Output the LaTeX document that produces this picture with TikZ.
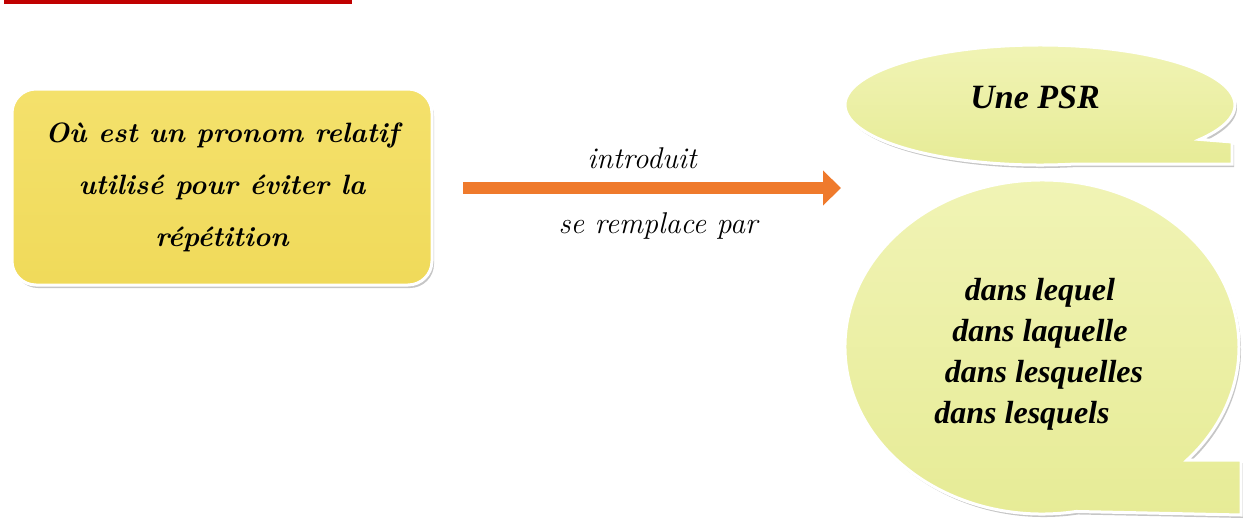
\documentclass[tikz,border=0pt]{standalone}
\usepackage{fontspec}
\newfontfamily\pubfont{Liberation Serif}
\usetikzlibrary{arrows.meta,shadows}
\definecolor{boxyellow}{HTML}{F0DA5A}
\definecolor{boxyellowtop}{HTML}{F4E16C}
\definecolor{bubtop}{HTML}{F1F4B6}
\definecolor{bubbot}{HTML}{E6EB95}
\definecolor{arroworange}{HTML}{EF7A2C}
\definecolor{barred}{HTML}{C00000}
\tikzset{
  boxstyle/.style={rectangle, rounded corners=12pt, minimum width=210pt, minimum height=98pt,
    top color=boxyellowtop, bottom color=boxyellow, draw=white, line width=1.5pt,
    drop shadow={shadow xshift=1pt, shadow yshift=-1.5pt, opacity=0.45},
    align=center, font=\fontsize{14}{26}\selectfont\bfseries\itshape},
  bubblestyle/.style={top color=bubtop, bottom color=bubbot, draw=white, line width=1.5pt,
    drop shadow={shadow xshift=1pt, shadow yshift=-1.5pt, opacity=0.45}},
  scripttext/.style={font=\fontsize{15}{18}\selectfont\itshape},
  bubbletext/.style={align=center, font=\pubfont\fontsize{16}{20.5}\selectfont\bfseries\itshape},
}
\begin{document}
\begin{tikzpicture}[x=0.5pt,y=-0.5pt]
\useasboundingbox (0,0) rectangle (1243,520);
% red bar
\fill[barred] (4,0) rectangle (352,3.5);
% left box
\node[boxstyle] (box) at (222,187) {Où est un pronom relatif\\utilisé pour éviter la\\répétition};
% arrow
\coordinate (astart) at (463,188);
\coordinate (aend) at (841,188);
\draw[arroworange, line width=6pt, -{Triangle[length=9pt,width=17pt]}] (astart) -- (aend);
\node[scripttext] (lab1) at (642,158) {introduit};
\node[scripttext] (lab2) at (658,226) {se remplace par};
% top bubble
\path[bubblestyle] (1040,105) ++(80:195 and 60) coordinate (t0)
  arc[start angle=80, end angle=395, x radius=195, y radius=60]
  -- (1232,142) -- (1232,164) -- (t0) -- cycle;
\node[font=\pubfont\fontsize{17}{20}\selectfont\bfseries\itshape] (psr) at (1035,97) {Une PSR};
% bottom bubble
\path[bubblestyle] (1042,347) ++(80:197 and 167) coordinate (b0)
  arc[start angle=80, end angle=402.6, x radius=197, y radius=167]
  -- (1241,460) -- (1241,515) -- (b0) -- cycle;
\node[bubbletext] (list) at (1040,354) {dans lequel\\dans laquelle\\\hspace*{4pt}dans lesquelles\\dans lesquels\hspace*{18pt}};
\end{tikzpicture}
\end{document}
